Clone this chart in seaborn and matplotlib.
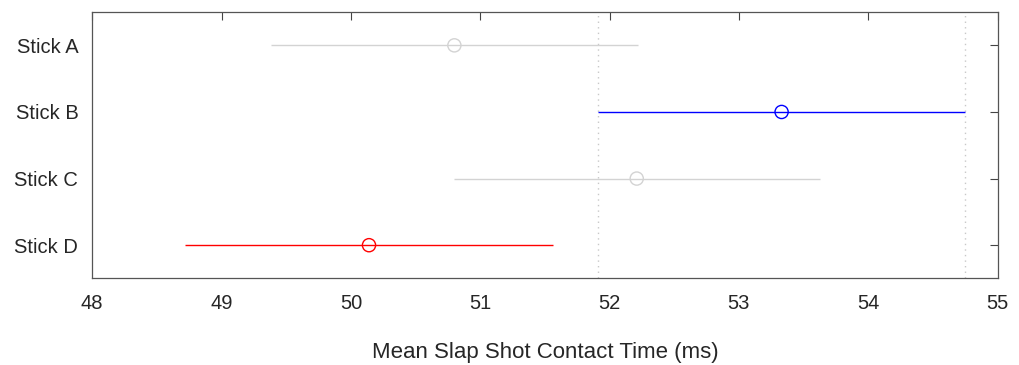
import numpy as np
import pandas as pd
import seaborn as sns
from matplotlib import pyplot as plt

sns.set_style("white")
plt.rcParams['font.family'] = ['Liberation Sans', 'DejaVu Sans']

# Multiple comparison of stick means (Stick B selected)
sticks = ["Stick A", "Stick B", "Stick C", "Stick D"]
means = [50.80, 53.33, 52.21, 50.14]
lower = [49.38, 51.91, 50.80, 48.72]
upper = [52.22, 54.75, 53.63, 51.56]
colors = ["#d3d3d3", "#0000ff", "#d3d3d3", "#ff0000"]

df = pd.DataFrame({"stick": sticks, "mean": means, "lo": lower, "hi": upper, "pos": range(1, len(sticks) + 1)})

fig, ax = plt.subplots(figsize=(10.19, 3.65), dpi=100)
fig.subplots_adjust(left=0.0905, right=0.979, top=0.967, bottom=0.237)

# selected group's interval
sel = 1
for xv in (lower[sel], upper[sel]):
    ax.axvline(xv, color="#c8c8c8", lw=1, ls=(0, (1, 3)), zorder=1)

for i, row in df.iterrows():
    ax.hlines(row["pos"], row["lo"], row["hi"], color=colors[i], lw=1, zorder=2)

sns.scatterplot(data=df, x="mean", y="pos", hue="stick", palette=colors, s=90,
                facecolors="none", linewidth=1, legend=False, ax=ax, zorder=3)
for coll in ax.collections:
    fc = coll.get_facecolors()
    if len(fc):
        coll.set_edgecolors(fc)
        coll.set_facecolors("none")

ax.set_xlim(48, 55)
ax.set_ylim(4.5, 0.5)
ax.set_xticks(range(48, 56))
ax.set_yticks(df["pos"])
ax.set_yticklabels(sticks)
ax.set_ylabel("")
ax.set_xlabel("Mean Slap Shot Contact Time (ms)", fontsize=16, labelpad=21, color="#262626")
ax.tick_params(axis="both", direction="in", length=6, width=0.8, color="#444444",
               labelsize=14.5, top=True, right=True, labelcolor="#262626")
ax.tick_params(axis="x", pad=11)
ax.tick_params(axis="y", pad=10)
for s in ax.spines.values():
    s.set_color("#555555")
    s.set_linewidth(0.9)

plt.savefig("out.png", dpi=100)
